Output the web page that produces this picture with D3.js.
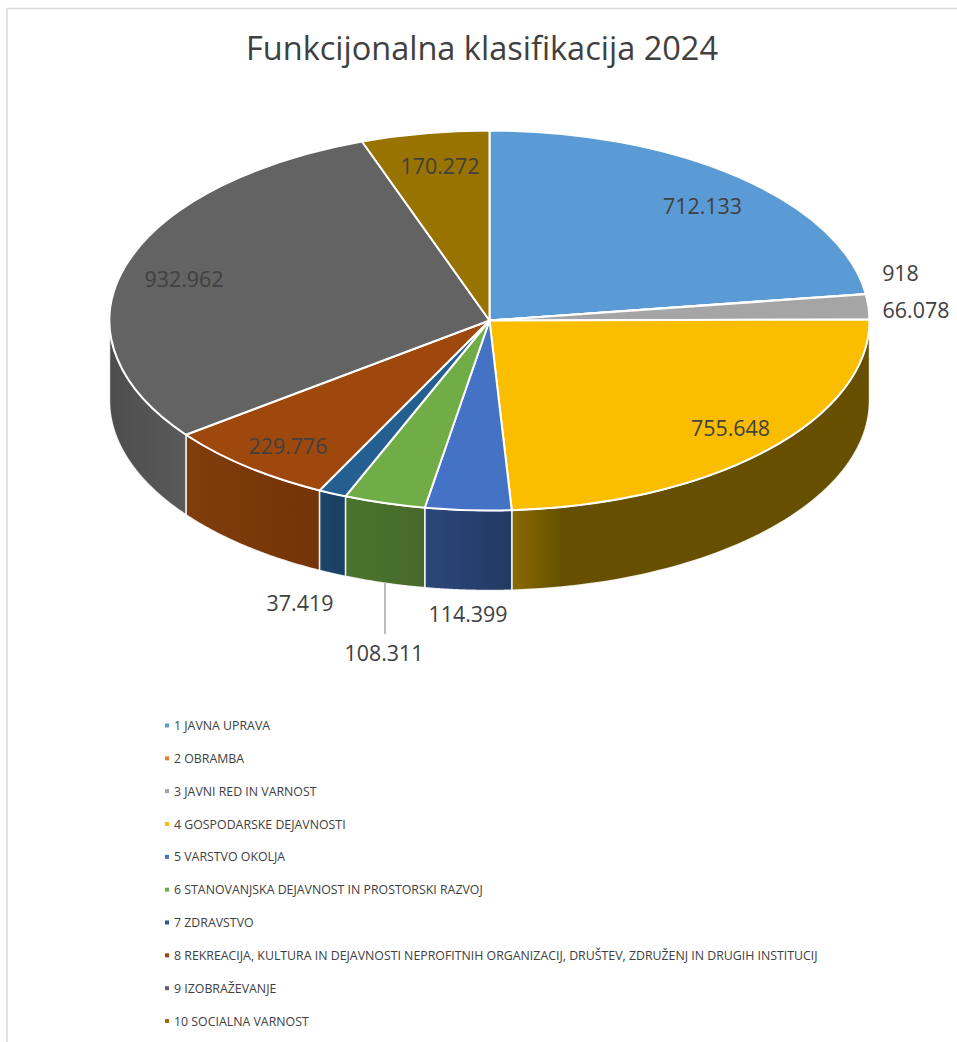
<!DOCTYPE html>
<html>
<head>
<meta charset="utf-8">
<script src="https://cdn.jsdelivr.net/npm/d3@7/dist/d3.min.js"></script>
<style>
html,body{margin:0;padding:0;background:#fff}
svg{display:block}
text{font-family:"Open Sans","Noto Sans",sans-serif;fill:#404040}
</style>
</head>
<body>
<svg id="chart" width="957" height="1042"></svg>
<script>
const titleText = "Funkcijonalna klasifikacija 2024";
const categories = [
  "1 JAVNA UPRAVA","2 OBRAMBA","3 JAVNI RED IN VARNOST","4 GOSPODARSKE DEJAVNOSTI","5 VARSTVO OKOLJA",
  "6 STANOVANJSKA DEJAVNOST IN PROSTORSKI RAZVOJ","7 ZDRAVSTVO",
  "8 REKREACIJA, KULTURA IN DEJAVNOSTI NEPROFITNIH ORGANIZACIJ, DRUŠTEV, ZDRUŽENJ IN DRUGIH INSTITUCIJ",
  "9 IZOBRAŽEVANJE","10 SOCIALNA VARNOST"];
const values = [712133,918,66078,755648,114399,108311,37419,229776,932962,170272];
const valueLabels = ["712.133","918","66.078","755.648","114.399","108.311","37.419","229.776","932.962","170.272"];
const topColors = ["#5b9bd5","#ed7d31","#a5a5a5","#fbbd00","#4472c4","#70ad47","#255e91","#9e480e","#636363","#997300"];
const wallStart = ["#36648c","#8c4a1d","#636363","#8a6a00","#2a4679","#4a752e","#1b456b","#813d0b","#4d4d4d","#5c4500"];
const wallEnd   = ["#36648c","#8c4a1d","#636363","#665000","#233a63","#47682a","#1b4062","#733408","#5a5a5a","#5c4500"];

const svg = d3.select("#chart");
const cx = 489.5, cy = 320.5, rx = 380, ry = 190, depth = 80;

// chart frame
svg.append("path").attr("d","M7,1042V8.5H957").attr("fill","none").attr("stroke","#d9d9d9").attr("stroke-width",1.5);

svg.append("text").attr("x",482).attr("y",60).attr("text-anchor","middle")
  .attr("font-size",32.5).text(titleText);

const arcs = d3.pie().sort(null).value(d=>d)(values);
const defs = svg.append("defs");

const px = a => cx + rx*Math.sin(a);
const py = a => cy - ry*Math.cos(a);

// side walls: only the part of the rim facing the viewer (90deg..270deg)
const lo = Math.PI/2, hi = 3*Math.PI/2;
const walls = svg.append("g");
arcs.forEach((d,i)=>{
  const a0 = Math.max(d.startAngle,lo), a1 = Math.min(d.endAngle,hi);
  if(a1<=a0 || values[i]<1000) return;
  const gx0 = px(a1), gx1 = px(a0); // left / right on screen
  const id = "wall"+i;
  const g = defs.append("linearGradient").attr("id",id)
    .attr("gradientUnits","userSpaceOnUse")
    .attr("x1",gx0).attr("x2",i===3?gx0+50:gx1).attr("y1",0).attr("y2",0);
  g.append("stop").attr("offset",0).attr("stop-color",wallStart[i]);
  g.append("stop").attr("offset",1).attr("stop-color",wallEnd[i]);
  const p = d3.path();
  p.moveTo(px(a0),py(a0));
  p.lineTo(px(a0),py(a0)+depth);
  const n = 60;
  d3.range(1,n+1).forEach(k=>{
    const a = a0+(a1-a0)*k/n;
    p.lineTo(px(a),py(a)+depth);
  });
  p.lineTo(px(a1),py(a1));
  d3.range(n-1,-1,-1).forEach(k=>{
    const a = a0+(a1-a0)*k/n;
    p.lineTo(px(a),py(a));
  });
  p.closePath();
  walls.append("path").attr("d",p.toString()).attr("fill",`url(#${id})`)
    .attr("stroke","#fff").attr("stroke-opacity",0.85).attr("stroke-width",1.5).attr("stroke-linejoin","round");
});

// top surface: d3.arc squashed into an ellipse
const arcGen = d3.arc().innerRadius(0).outerRadius(rx);
svg.append("g").attr("transform",`translate(${cx},${cy}) scale(1,${ry/rx})`)
  .selectAll("path").data(arcs).join("path")
  .attr("d",arcGen).attr("fill",(d,i)=>topColors[i])
  .attr("stroke","#fff").attr("stroke-width",2).attr("vector-effect","non-scaling-stroke")
  .attr("stroke-linejoin","round");

// leader line for the 108.311 label
svg.append("line").attr("x1",385).attr("x2",385).attr("y1",583).attr("y2",634)
  .attr("stroke","#a6a6a6").attr("stroke-width",1.5);

// data labels (centre of each text)
const labelAt = [[702.5,205],[900.5,272],[916,309],[730.5,427],[468,613],[384,652],[300,602],[288,445],[184,278],[440,165]];
svg.append("g").selectAll("text").data(valueLabels).join("text")
  .attr("x",(d,i)=>labelAt[i][0]).attr("y",(d,i)=>labelAt[i][1])
  .attr("text-anchor","middle").attr("dominant-baseline","central")
  .attr("font-size",21.4).text(d=>d);

// legend
const legendY = d3.scalePoint().domain(categories).range([725.5,1021]);
const leg = svg.append("g").selectAll("g").data(categories).join("g")
  .attr("transform",d=>`translate(0,${legendY(d)})`);
leg.append("rect").attr("x",165).attr("y",-2).attr("width",4).attr("height",4).attr("fill",(d,i)=>topColors[i]);
leg.append("text").attr("x",174).attr("dominant-baseline","central").attr("font-size",12.35).text(d=>d);
</script>
</body>
</html>
